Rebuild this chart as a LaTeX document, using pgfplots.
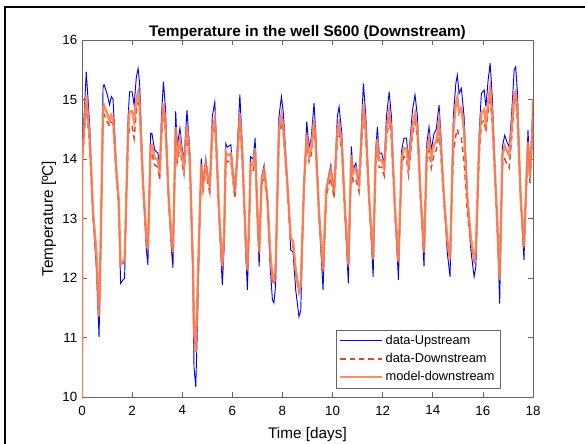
\documentclass[border=0pt]{standalone}
\usepackage{fontspec}
\setmainfont{Liberation Sans}
\usepackage{pgfplots}
\usepackage{pgfplotstable}
\pgfplotsset{compat=1.18}
\definecolor{cblue}{RGB}{0,0,255}
\definecolor{cred}{RGB}{217,70,40}
\definecolor{corange}{RGB}{255,128,80}
\pgfplotstableread{
d up model down
0.00 14.10 10.00 14.00
0.01 14.12 14.00 13.95
0.08 14.70 14.46 14.36
0.17 15.47 15.08 14.95
0.31 14.54 14.33 14.20
0.44 13.03 13.12 13.00
0.57 12.19 12.45 12.35
0.68 11.01 11.35 11.60
0.75 12.50 12.70 12.60
0.84 15.21 14.87 14.70
0.88 15.25 14.90 14.75
1.01 15.08 14.76 14.62
1.10 14.91 14.63 14.55
1.17 15.05 14.74 14.62
1.24 15.00 14.70 14.60
1.37 13.87 13.80 13.70
1.46 13.31 13.35 13.25
1.54 11.91 12.23 12.20
1.64 11.97 12.28 12.25
1.70 12.00 12.30 12.30
1.84 14.71 14.47 14.30
1.90 15.13 14.80 14.55
2.00 15.13 14.80 14.55
2.08 14.91 14.63 14.35
2.17 15.38 15.00 14.80
2.24 15.52 15.12 14.95
2.30 15.27 14.92 14.80
2.44 13.59 13.57 13.47
2.57 12.47 12.68 12.60
2.63 12.22 12.48 12.45
2.74 14.43 14.24 14.10
2.79 14.43 14.24 14.10
2.90 14.15 14.02 13.90
3.03 14.10 13.98 13.86
3.10 13.82 13.76 13.65
3.17 14.71 14.47 14.35
3.25 15.30 14.94 14.82
3.33 14.86 14.59 14.48
3.46 13.31 13.35 13.25
3.57 12.47 12.68 12.60
3.63 12.17 12.44 12.40
3.74 14.80 14.54 14.40
3.80 14.21 14.07 13.95
3.91 14.52 14.32 14.20
3.99 14.20 14.06 13.93
4.07 13.98 13.88 13.75
4.19 14.82 14.56 14.42
4.30 14.15 14.02 13.90
4.43 11.91 12.23 12.15
4.47 10.50 11.10 11.05
4.54 10.17 10.76 10.85
4.60 11.07 11.56 11.50
4.67 12.47 12.68 12.60
4.76 14.01 13.91 13.80
4.83 13.59 13.57 13.47
4.94 14.01 13.91 13.80
5.03 13.70 13.66 13.56
5.10 13.55 13.54 13.44
5.20 14.71 14.47 14.37
5.30 14.96 14.67 14.57
5.38 14.15 14.02 13.92
5.47 13.03 13.12 13.02
5.60 11.88 12.20 12.15
5.67 12.50 12.70 12.60
5.74 14.26 14.11 14.00
5.80 14.20 14.06 13.95
5.94 14.24 14.09 13.98
6.00 13.93 13.84 13.74
6.10 13.42 13.44 13.34
6.20 14.20 14.06 13.96
6.30 15.08 14.76 14.66
6.40 14.20 14.06 13.96
6.53 12.47 12.68 12.60
6.60 11.80 12.14 12.10
6.67 12.80 12.94 12.85
6.73 14.04 13.93 13.83
6.83 14.00 13.90 13.80
6.91 14.35 14.18 14.08
7.00 13.03 13.12 13.02
7.07 12.19 12.45 12.40
7.17 13.70 13.66 13.56
7.27 13.90 13.82 13.72
7.40 13.31 13.35 13.25
7.51 12.19 12.45 12.38
7.60 11.63 12.00 11.95
7.66 11.58 11.96 11.92
7.73 11.90 12.22 12.15
7.86 14.71 14.47 14.37
7.96 15.05 14.74 14.62
8.04 14.75 14.50 14.40
8.20 13.59 13.57 13.47
8.33 12.47 12.68 12.60
8.42 12.44 12.62 12.55
8.53 11.80 12.14 12.08
8.66 11.35 11.78 11.75
8.73 11.45 11.86 11.82
8.86 13.59 13.57 13.47
8.97 14.63 14.40 14.28
9.06 14.20 14.06 13.96
9.15 14.35 14.18 14.08
9.26 14.94 14.65 14.52
9.33 14.43 14.24 14.14
9.46 13.03 13.12 13.02
9.62 11.80 12.14 12.10
9.75 13.48 13.48 13.38
9.86 13.76 13.71 13.58
9.93 13.90 13.82 13.68
10.06 13.42 13.44 13.34
10.19 14.71 14.47 14.35
10.26 14.88 14.60 14.45
10.37 14.43 14.24 14.12
10.50 13.03 13.12 13.02
10.63 11.91 12.23 12.18
10.75 14.21 14.07 13.92
10.82 13.82 13.76 13.62
10.93 13.93 13.84 13.66
11.06 13.59 13.57 13.45
11.17 14.71 14.47 14.35
11.23 15.27 14.92 14.78
11.33 14.71 14.47 14.35
11.46 13.31 13.35 13.25
11.62 12.02 12.32 12.28
11.72 14.15 14.02 13.90
11.79 14.54 14.33 14.20
11.86 14.10 13.98 13.86
11.96 14.10 13.98 13.86
12.06 13.92 13.84 13.72
12.15 14.71 14.47 14.35
12.26 15.13 14.80 14.66
12.35 14.71 14.47 14.35
12.50 13.03 13.12 13.02
12.63 11.97 12.28 12.24
12.76 14.15 14.02 13.88
12.85 14.35 14.18 14.04
12.95 14.35 14.18 14.02
13.03 13.98 13.88 13.74
13.19 14.82 14.56 14.42
13.29 15.08 14.76 14.62
13.39 14.71 14.47 14.35
13.52 13.31 13.35 13.25
13.65 12.19 12.45 12.42
13.76 14.26 14.11 13.92
13.85 14.54 14.33 14.15
13.94 14.15 14.02 13.85
14.05 14.43 14.24 14.08
14.14 14.50 14.30 14.15
14.25 14.91 14.63 14.45
14.32 14.43 14.24 14.08
14.45 13.31 13.35 13.25
14.58 12.42 12.64 12.58
14.69 12.02 12.32 12.30
14.82 14.71 14.47 14.10
14.92 15.27 14.92 14.40
14.98 15.41 15.03 14.50
15.05 15.10 14.78 14.38
15.14 15.19 14.85 14.35
15.25 14.71 14.47 13.95
15.38 13.31 13.35 13.10
15.52 12.47 12.68 12.55
15.65 12.02 12.32 12.28
15.72 12.20 12.46 12.40
15.85 14.43 14.24 14.05
15.94 15.10 14.78 14.60
16.05 15.16 14.83 14.65
16.12 14.88 14.60 14.45
16.21 15.33 14.96 14.80
16.29 15.61 15.19 15.05
16.38 14.99 14.69 14.55
16.48 13.87 13.80 13.68
16.58 12.75 12.90 12.80
16.67 11.57 11.96 12.00
16.78 14.21 14.07 13.90
16.87 14.40 14.22 14.00
16.95 14.30 14.14 13.92
17.05 14.20 14.06 13.85
17.14 14.71 14.47 14.30
17.25 15.50 15.10 14.95
17.31 15.55 15.14 15.00
17.38 15.10 14.78 14.65
17.51 13.31 13.35 13.25
17.64 12.30 12.54 12.50
17.75 13.87 13.80 13.68
17.80 14.49 14.29 14.15
17.88 13.76 13.71 13.60
17.98 14.71 14.47 14.40
18.00 14.90 15.00 14.90
}\datatable
\begin{document}
\begin{tikzpicture}
\useasboundingbox (0pt,0pt) rectangle (438.75pt,-332.25pt);
\draw[line width=1pt] (3.75pt,-333pt) -- (3.75pt,-5.25pt) -- (440pt,-5.25pt);
\begin{axis}[
  at={(61.5pt,-297.75pt)}, anchor=south west,
  width=338.25pt, height=267.75pt, scale only axis,
  xmin=0, xmax=18, ymin=10, ymax=16,
  xtick={0,2,...,18}, ytick={10,11,...,16},
  tick align=inside, major tick length=4pt,
  axis line style={black!60, line width=0.5pt},
  tick style={black!60, line width=0.5pt},
  /pgf/number format/assume math mode=true,
  ticklabel style={font=\fontsize{10}{12}\selectfont},
  xticklabel style={yshift=-3pt},
  title={\textbf{Temperature in the well S600 (Downstream)}},
  title style={font=\fontsize{11.5}{13}\selectfont, yshift=-9pt},
  xlabel={Time [days]},
  ylabel={Temperature [ºC]},
  label style={font=\fontsize{11.5}{13}\selectfont},
  xlabel style={yshift=-2pt},
  ylabel style={yshift=-2pt},
  legend cell align=left,
  legend style={at={(0.927,0.025)}, anchor=south east, draw=black!60, fill=white,
    font=\fontsize{9.6}{11}\selectfont, row sep=1pt, inner sep=2pt},
  legend image code/.code={\draw[#1] (0pt,0pt) -- (31pt,0pt);},
]
\addplot[cblue, line width=0.7pt] table[x=d, y=up] {\datatable};
\addlegendentry{data-Upstream}
\addplot[cred, line width=1.1pt, dash pattern=on 4pt off 3pt] table[x=d, y=down] {\datatable};
\addlegendentry{data-Downstream}
\addplot[corange, line width=1.8pt, opacity=0.9] table[x=d, y=model] {\datatable};
\addlegendentry{model-downstream}
\end{axis}
\end{tikzpicture}
\end{document}
